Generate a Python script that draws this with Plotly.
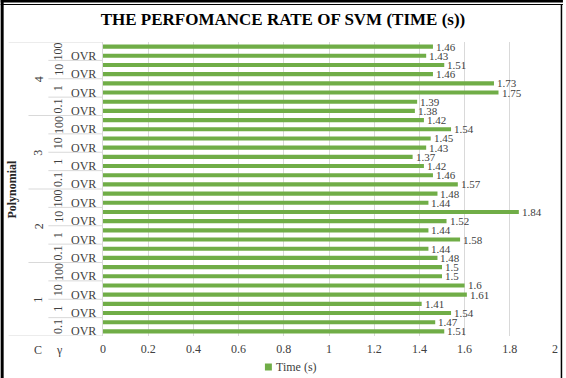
import plotly.graph_objects as go

# Times (s) for each configuration, listed from the bottom bar upwards
kernel = "Polynomial"
c_values = ["1", "2", "3", "4"]
gamma_values = ["0.1", "1", "10", "100"]
strategy = "OVR"
times = [1.51, 1.47, 1.54, 1.41, 1.61, 1.6, 1.5, 1.5,
         1.48, 1.44, 1.58, 1.44, 1.52, 1.84, 1.44, 1.48,
         1.57, 1.46, 1.42, 1.37, 1.43, 1.45, 1.54, 1.42,
         1.38, 1.39, 1.75, 1.73, 1.46, 1.51, 1.43, 1.46]
x_ticks = [0, 0.2, 0.4, 0.6, 0.8, 1, 1.2, 1.4, 1.6, 1.8, 2]

W, H = 566, 378
L, R, T, B = 103, 8, 42, 42
PW, PH = W - L - R, H - T - B
SERIF = "Liberation Serif"
GREEN = "#70AD47"
GRID = "#D9D9D9"
TXT = "#404040"

per_gamma = 2
per_c = per_gamma * len(gamma_values)
n = len(times)
pos = list(range(n))


def px_x(px):
    return (px - L) / PW


def px_y(py):
    return (H - B - py) / PH


def label(x, y, text, xref="paper", yref="y", angle=0, xanchor="center",
          color=TXT, size=12, xshift=0, pad=1):
    return dict(x=x, y=y, xref=xref, yref=yref, text=text, showarrow=False,
                textangle=angle, xanchor=xanchor, yanchor="middle", xshift=xshift,
                borderpad=pad, font=dict(family=SERIF, size=size, color=color))


fig = go.Figure()
fig.add_trace(go.Bar(
    x=times, y=pos, orientation="h", width=0.45,
    marker=dict(color=GREEN, line=dict(width=0)),
    cliponaxis=False, name="Time (s)", showlegend=False,
))

ann = []
shapes = []

# value labels just past the end of each bar
for v, p in zip(times, pos):
    ann.append(label(v, p, f"{v:g}", xref="x", xanchor="left", size=11,
                     xshift=2, pad=0))

# innermost labels (every other category shown)
for i in range(0, n, 2):
    ann.append(label(px_x(98), i, strategy, xanchor="right"))

# gamma and C labels
for ci in range(len(c_values)):
    for gi, g in enumerate(gamma_values):
        yc = ci * per_c + gi * per_gamma + (per_gamma - 1) / 2
        ann.append(label(px_x(58), yc, g, angle=-90))
    ann.append(label(px_x(38), ci * per_c + (per_c - 1) / 2, c_values[ci],
                     angle=-90))

ann.append(label(px_x(11), (n - 1) / 2, f"<b>{kernel}</b>", angle=-90,
                 color="#262626"))

# level captions under the category columns
for txt, xp in (("C", 38), ("γ", 59)):
    ann.append(label(px_x(xp), px_y(350), txt, yref="paper"))

# separators between category groups
for k in range(1, n // per_gamma):
    b = k * per_gamma - 0.5
    x0 = 28 if (k * per_gamma) % per_c == 0 else 48
    shapes.append(dict(type="line", xref="paper", yref="y", x0=px_x(x0),
                       x1=px_x(L), y0=b, y1=b, line=dict(color=GRID, width=1)))
for b in (-0.5, n - 0.5):
    shapes.append(dict(type="line", xref="paper", yref="y", x0=px_x(8),
                       x1=px_x(L), y0=b, y1=b, line=dict(color=GRID, width=1)))

# legend swatch and caption
shapes.append(dict(type="rect", xref="paper", yref="paper",
                   x0=px_x(266), x1=px_x(273), y0=px_y(370.5), y1=px_y(363.5),
                   fillcolor=GREEN, line=dict(width=0)))
ann.append(label(px_x(275), px_y(367), "Time (s)", yref="paper", xanchor="left"))

# chart frame
shapes += [
    dict(type="rect", xref="paper", yref="paper", x0=px_x(0), x1=px_x(W),
         y0=px_y(0), y1=px_y(2.5), fillcolor="black", line=dict(width=0)),
    dict(type="line", xref="paper", yref="paper", x0=px_x(0), x1=px_x(W),
         y0=px_y(4.5), y1=px_y(4.5), line=dict(color="black", width=1)),
    dict(type="rect", xref="paper", yref="paper", x0=px_x(0), x1=px_x(3),
         y0=px_y(0), y1=px_y(H), fillcolor="black", line=dict(width=0)),
    dict(type="line", xref="paper", yref="paper", x0=px_x(W - 1.5),
         x1=px_x(W - 1.5), y0=px_y(4), y1=px_y(H), line=dict(color="black", width=1.5)),
]

fig.update_layout(
    width=W, height=H, margin=dict(l=L, r=R, t=T, b=B),
    paper_bgcolor="white", plot_bgcolor="white",
    title=dict(text="<b>THE PERFOMANCE RATE OF SVM (TIME (s))</b>",
               x=0.5, xref="container", y=1 - 19 / H, yref="container",
               xanchor="center", yanchor="middle",
               font=dict(family=SERIF, size=17, color="black")),
    xaxis=dict(range=[0, 2], tickvals=x_ticks, ticktext=[f"{v:g}" for v in x_ticks],
               showgrid=True, gridcolor=GRID, gridwidth=1, zeroline=False,
               showline=False, ticks="", ticklabelstandoff=4,
               tickfont=dict(family=SERIF, size=12, color=TXT)),
    yaxis=dict(range=[-0.5, n - 0.5], showticklabels=False, showgrid=False,
               zeroline=False, showline=True, linecolor=GRID, linewidth=1, ticks=""),
    annotations=ann, shapes=shapes, showlegend=False,
)

fig.write_html("out.html")
